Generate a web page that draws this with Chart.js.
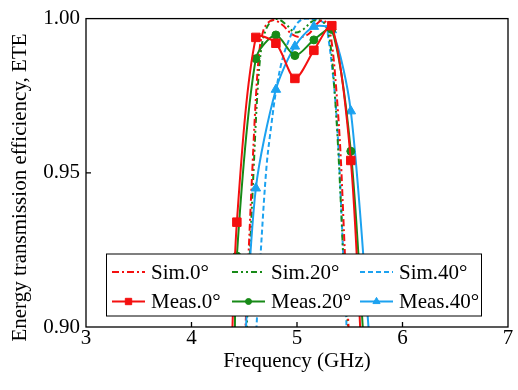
<!DOCTYPE html>
<html>
<head>
<meta charset="utf-8">
<script src="https://cdn.jsdelivr.net/npm/chart.js@4"></script>
<style>
html, body { margin: 0; padding: 0; background: #fff; }
</style>
</head>
<body>
<canvas id="ete" width="518" height="390"></canvas>
<script>
// axes
const xTicks = [3, 4, 5, 6, 7];
const xTickLabels = ['3', '4', '5', '6', '7'];
const yTicks = [0.90, 0.95, 1.00];
const yTickLabels = ['0.90', '0.95', '1.00'];

// measured (GHz / ETE), first and last points sit just under the axis
const meas0Freq  = [4.37, 4.43, 4.61, 4.80, 4.98, 5.16, 5.33, 5.51, 5.62];
const meas0      = [0.88, 0.934, 0.9939, 0.992, 0.9806, 0.9897, 0.9977, 0.954, 0.885];
const meas20Freq = [4.405, 4.43, 4.61, 4.80, 4.98, 5.16, 5.33, 5.51, 5.65];
const meas20     = [0.88, 0.923, 0.987, 0.9947, 0.988, 0.9931, 0.9965, 0.957, 0.885];
const meas40Freq = [4.49, 4.61, 4.80, 4.98, 5.16, 5.33, 5.51, 5.70];
const meas40     = [0.885, 0.945, 0.977, 0.991, 0.9974, 0.9963, 0.970, 0.89];

// simulated
const sim0Freq = [4.40, 4.46, 4.512, 4.54, 4.578, 4.613, 4.645, 4.68, 4.72, 4.78, 4.86, 4.95, 5.03, 5.11, 5.18, 5.24, 5.29, 5.33, 5.37, 5.41, 5.44, 5.465, 5.488, 5.53, 5.60];
const sim0Val  = [0.80, 0.86, 0.900, 0.923, 0.952, 0.976, 0.990, 0.996, 0.9985, 0.9995, 0.998, 0.995, 0.994, 0.995, 0.998, 0.9995, 0.998, 0.992, 0.978, 0.958, 0.935, 0.915, 0.900, 0.86, 0.80];
const sim20Freq = [4.41, 4.47, 4.524, 4.552, 4.59, 4.625, 4.66, 4.70, 4.76, 4.82, 4.90, 4.98, 5.06, 5.14, 5.21, 5.27, 5.315, 5.355, 5.39, 5.42, 5.445, 5.468, 5.49, 5.53, 5.60];
const sim20Val  = [0.80, 0.86, 0.900, 0.923, 0.952, 0.976, 0.990, 0.996, 0.9993, 0.9998, 0.998, 0.9955, 0.9965, 0.999, 0.9995, 0.998, 0.992, 0.977, 0.958, 0.937, 0.918, 0.906, 0.898, 0.86, 0.80];
const sim40Freq = [4.56, 4.616, 4.654, 4.711, 4.755, 4.803, 4.863, 4.929, 4.992, 5.05, 5.10, 5.15, 5.21, 5.27, 5.30, 5.33, 5.36, 5.39, 5.42, 5.445, 5.47, 5.52];
const sim40Val  = [0.86, 0.900, 0.923, 0.952, 0.965, 0.977, 0.987, 0.9935, 0.998, 0.9998, 1.0, 0.9998, 0.9995, 0.998, 0.993, 0.985, 0.975, 0.960, 0.938, 0.918, 0.900, 0.86];

const RED = '#f41010';
const GREEN = '#178a17';
const BLUE = '#1ca2f0';
const SERIF = '"Liberation Serif", "Times New Roman", serif';

const pts = (xs, ys) => xs.map((v, i) => ({ x: v, y: ys[i] }));

const simSet = (label, xs, ys, color, dash) => ({
    label: label,
    data: pts(xs, ys),
    borderColor: color,
    borderWidth: 2,
    borderDash: dash,
    pointRadius: 0,
    tension: 0.35,
    fill: false
});

const measSet = (label, xs, ys, color, style, r) => ({
    label: label,
    data: pts(xs, ys),
    borderColor: color,
    backgroundColor: color,
    borderWidth: 2,
    pointStyle: style,
    pointRadius: r,
    pointBorderWidth: 1,
    tension: 0.28,
    fill: false
});

const datasets = [
    measSet('Meas.0°', meas0Freq, meas0, RED, 'rect', 6),
    measSet('Meas.20°', meas20Freq, meas20, GREEN, 'circle', 4),
    measSet('Meas.40°', meas40Freq, meas40, BLUE, 'triangle', 5.5),
    simSet('Sim.0°', sim0Freq, sim0Val, RED, [7, 3, 2, 3]),
    simSet('Sim.20°', sim20Freq, sim20Val, GREEN, [6, 3, 2, 3, 2, 3]),
    simSet('Sim.40°', sim40Freq, sim40Val, BLUE, [5, 3])
];

// frame with inward ticks, plus the y title centred like the original
const frame = {
    id: 'frame',
    afterDatasetsDraw(chart) {
        const { ctx, chartArea: a, scales: { x, y } } = chart;
        ctx.save();
        ctx.strokeStyle = '#000';
        ctx.lineWidth = 1.3;
        ctx.strokeRect(a.left, a.top, a.right - a.left, a.bottom - a.top);
        ctx.beginPath();
        xTicks.slice(1, -1).forEach(v => {
            const px = x.getPixelForValue(v);
            ctx.moveTo(px, a.bottom);
            ctx.lineTo(px, a.bottom - 5);
        });
        yTicks.slice(1, -1).forEach(v => {
            const py = y.getPixelForValue(v);
            ctx.moveTo(a.left, py);
            ctx.lineTo(a.left + 5, py);
        });
        ctx.stroke();

        ctx.translate(20, 187.5);
        ctx.rotate(-Math.PI / 2);
        ctx.fillStyle = '#000';
        ctx.font = '21px ' + SERIF;
        ctx.textAlign = 'center';
        ctx.textBaseline = 'middle';
        ctx.fillText('Energy transmission efficiency, ETE', 0, 0);
        ctx.restore();
    }
};

// boxed legend, 2 rows x 3 columns
const legendRows = [['Sim.0°', 'Sim.20°', 'Sim.40°'], ['Meas.0°', 'Meas.20°', 'Meas.40°']];
const boxLegend = {
    id: 'boxLegend',
    afterDraw(chart) {
        const { ctx, chartArea: a } = chart;
        const left = a.left + 20.5, top = 254, w = 375, h = 62;
        const cols = [5.5, 125.5, 253.5];
        const rowsY = [272, 301.5];
        ctx.save();
        ctx.fillStyle = '#fff';
        ctx.fillRect(left, top, w, h);
        ctx.strokeStyle = '#000';
        ctx.lineWidth = 1;
        ctx.setLineDash([]);
        ctx.strokeRect(left, top, w, h);
        ctx.font = '21px ' + SERIF;
        ctx.textBaseline = 'middle';
        ctx.textAlign = 'left';
        legendRows.forEach((row, r) => {
            row.forEach((label, c) => {
                const ds = chart.data.datasets.find(d => d.label === label);
                const x0 = left + cols[c], x1 = x0 + 33, yy = rowsY[r];
                ctx.strokeStyle = ds.borderColor;
                ctx.lineWidth = ds.borderWidth;
                ctx.setLineDash(ds.borderDash || []);
                ctx.beginPath();
                ctx.moveTo(x0, yy);
                ctx.lineTo(x1, yy);
                ctx.stroke();
                ctx.setLineDash([]);
                if (ds.pointRadius > 0) {
                    ctx.fillStyle = ds.backgroundColor;
                    ctx.lineWidth = 1;
                    Chart.helpers.drawPoint(ctx, {
                        pointStyle: ds.pointStyle,
                        radius: ds.pointRadius * 0.75,
                        rotation: 0,
                        borderWidth: 1
                    }, (x0 + x1) / 2, yy);
                }
                ctx.fillStyle = '#000';
                ctx.fillText(label, x1 + 6, yy + 1);
            });
        });
        ctx.restore();
    }
};

const ctx = document.getElementById('ete');

new Chart(ctx, {
    type: 'line',
    data: { datasets: datasets },
    plugins: [frame, boxLegend],
    options: {
        responsive: false,
        animation: false,
        devicePixelRatio: 1,
        layout: { padding: { top: 17, right: 10, left: 0, bottom: 0 } },
        plugins: {
            legend: { display: false },
            tooltip: { enabled: false }
        },
        scales: {
            x: {
                type: 'linear',
                min: 3,
                max: 7,
                afterBuildTicks: s => { s.ticks = xTicks.map(v => ({ value: v })); },
                afterFit: s => { s.height = 63; },
                ticks: {
                    color: '#000',
                    font: { family: SERIF, size: 21 },
                    padding: -1,
                    maxRotation: 0,
                    callback: (v, i) => xTickLabels[i]
                },
                grid: { display: false, drawTicks: false },
                border: { display: false },
                title: {
                    display: true,
                    text: 'Frequency (GHz)',
                    color: '#000',
                    font: { family: SERIF, size: 21 },
                    padding: { top: 0, bottom: 15.5 }
                }
            },
            y: {
                type: 'linear',
                min: 0.90,
                max: 1.00,
                afterBuildTicks: s => { s.ticks = yTicks.map(v => ({ value: v })); },
                afterFit: s => { s.width = 86; },
                ticks: {
                    color: '#000',
                    font: { family: SERIF, size: 21 },
                    padding: 6,
                    callback: (v, i) => yTickLabels[i]
                },
                grid: { display: false, drawTicks: false },
                border: { display: false },
                title: { display: false }
            }
        }
    }
});
</script>
</body>
</html>
